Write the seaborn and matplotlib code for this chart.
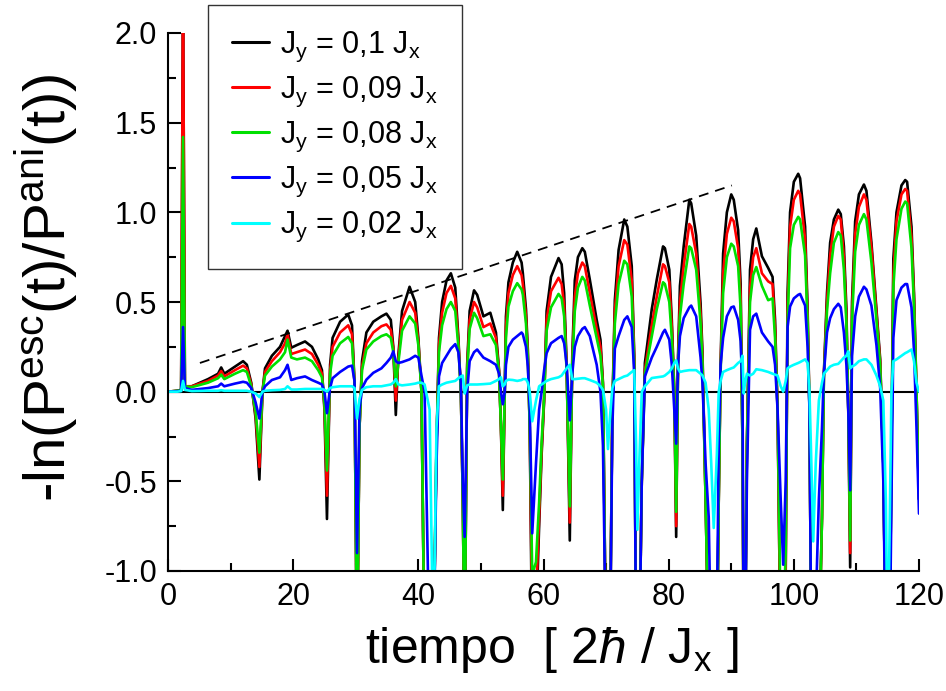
import matplotlib
matplotlib.use("Agg")
import matplotlib.pyplot as plt
from matplotlib.lines import Line2D
from matplotlib.ticker import MultipleLocator, FormatStrFormatter
import numpy as np
import pandas as pd
import seaborn as sns

# ---------------- data ----------------
tiempo = [
    0.0, 1.5, 2.1, 2.4, 2.7, 3.8, 6.4, 8.0, 8.5, 9.0, 10.7, 12.0, 12.6, 13.3, 14.0,
    14.6, 15.1, 15.5, 16.6, 17.9, 18.7, 19.1, 19.7, 20.6, 21.9, 23.0, 24.0, 24.6, 25.0,
    25.4, 25.9, 26.3, 27.5, 28.8, 29.4, 29.8,
    30.2, 30.6, 31.0, 31.7, 32.8, 34.1, 34.9, 35.6, 36.0,
    36.4, 36.8, 37.4, 38.6, 39.5, 40.0, 40.5,
    41.0, 41.8, 42.4, 42.9, 43.3, 43.8, 44.5, 45.2, 45.9, 46.4, 46.8, 47.1,
    47.4, 47.8, 48.2, 48.9, 49.4, 50.4, 51.5, 52.4, 52.9, 53.2,
    53.5, 53.8, 54.0, 54.4, 55.1, 55.8, 56.5, 56.7, 57.2, 57.5, 57.8,
    58.2, 58.8, 59.3, 59.7, 60.1, 60.5, 61.2, 62.4, 62.9, 63.3, 63.7,
    64.2, 64.6, 65.0, 65.5, 66.2, 66.6, 67.4, 68.5, 69.1, 69.5,
    70.0, 70.3, 70.6, 71.0, 71.4, 72.0, 72.9, 73.4, 74.1, 74.5,
    74.8, 75.0, 75.3, 75.7, 76.2, 77.3, 78.1, 79.1, 79.4, 80.1, 80.5, 80.9,
    81.2, 81.5, 81.8, 82.4, 83.3, 83.6, 84.4, 85.1, 85.4, 85.9,
    86.4, 86.8, 87.2, 87.7, 88.0, 88.3, 88.7, 89.3, 90.0, 90.4, 91.1, 91.5,
    91.8, 92.0, 92.2, 92.5, 93.0, 93.5, 94.0, 94.9, 95.9, 96.6, 97.0, 97.4,
    97.9, 98.3, 98.7, 99.0, 99.4, 100.0, 100.7, 101.0, 101.8, 102.2, 102.5,
    102.8, 103.1, 103.5, 104.0, 104.5, 104.8, 105.3, 105.8, 106.4, 107.1, 107.5, 108.0, 108.4, 108.7,
    109.0, 109.3, 109.8, 110.4, 111.2, 111.6, 112.4, 113.2, 113.8, 114.3,
    114.7, 115.0, 115.3, 115.6, 115.9, 116.4, 117.2, 117.8, 118.1, 118.8, 119.2, 119.6, 120.0,
]

jy_0_10 = [
    0.0, 0.005, 0.01, 2.3, 0.03, 0.03, 0.07, 0.10, 0.135, 0.10, 0.14, 0.17, 0.15, 0.05, -0.15,
    -0.49, 0.0, 0.13, 0.20, 0.25, 0.31, 0.34, 0.245, 0.26, 0.28, 0.25, 0.18, 0.12, -0.1,
    -0.71, 0.15, 0.30, 0.39, 0.43, 0.37, 0.05,
    -1.5, -0.2, 0.17, 0.33, 0.39, 0.42, 0.435, 0.40, 0.25,
    -0.13, 0.20, 0.45, 0.585, 0.50, 0.30, 0.0,
    -1.5, -1.5, -1.5, -0.3, 0.30, 0.50, 0.62, 0.66, 0.58, 0.30, 0.0, -0.6,
    -1.5, 0.15, 0.45, 0.565, 0.54, 0.42, 0.44, 0.33, 0.12, -0.2,
    -0.66, 0.0, 0.42, 0.61, 0.72, 0.78, 0.72, 0.66, 0.46, 0.23, -0.2,
    -1.5, -1.3, -0.75, -0.35, -0.05, 0.45, 0.64, 0.745, 0.71, 0.55, 0.15,
    -0.83, 0.2, 0.62, 0.75, 0.80, 0.78, 0.625, 0.40, 0.29, 0.05,
    -1.5, -1.5, -1.5, -0.1, 0.51, 0.79, 0.96, 0.92, 0.70, 0.2,
    -1.5, -1.5, -1.5, -0.5, 0.16, 0.46, 0.625, 0.81, 0.80, 0.68, 0.40, 0.0,
    -0.81, 0.2, 0.59, 0.81, 1.07, 1.05, 0.87, 0.49, 0.22, -0.6,
    -1.5, -1.5, -1.5, -1.5, -0.6, 0.15, 0.77, 1.0, 1.10, 1.07, 0.90, 0.6,
    -0.3, -1.5, -1.5, -0.3, 0.68, 0.85, 0.91, 0.755, 0.69, 0.64, 0.40, -0.1,
    -1.5, -1.5, -1.0, 0.55, 1.0, 1.17, 1.215, 1.19, 0.92, 0.46, -0.1,
    -1.5, -1.5, -1.5, -1.5, -0.7, 0.1, 0.55, 0.83, 0.96, 1.015, 0.99, 0.81, 0.46, -0.1,
    -0.98, 0.5, 0.95, 1.1, 1.155, 1.12, 0.83, 0.46, 0.18, -0.4,
    -1.5, -1.5, -1.5, -0.3, 0.74, 1.0, 1.15, 1.18, 1.17, 0.92, 0.55, 0.0, -0.6,
]

jy_0_09 = [
    0.0, 0.005, 0.01, 2.3, 0.03, 0.03, 0.06, 0.09, 0.115, 0.085, 0.12, 0.145, 0.13, 0.04, -0.13,
    -0.42, 0.0, 0.11, 0.17, 0.22, 0.27, 0.32, 0.21, 0.22, 0.235, 0.21, 0.15, 0.10, -0.08,
    -0.58, 0.12, 0.25, 0.33, 0.37, 0.32, 0.05,
    -1.5, -0.2, 0.14, 0.27, 0.33, 0.365, 0.375, 0.345, 0.24,
    -0.05, 0.18, 0.40, 0.50, 0.44, 0.28, 0.0,
    -1.5, -1.5, -1.5, -0.3, 0.26, 0.44, 0.55, 0.59, 0.52, 0.28, 0.0, -0.6,
    -1.5, 0.13, 0.40, 0.50, 0.47, 0.36, 0.38, 0.30, 0.11, -0.2,
    -0.58, 0.0, 0.36, 0.55, 0.65, 0.70, 0.65, 0.60, 0.42, 0.20, -0.2,
    -1.3, -1.15, -0.7, -0.32, -0.04, 0.40, 0.56, 0.635, 0.60, 0.48, 0.13,
    -0.73, 0.17, 0.53, 0.66, 0.72, 0.70, 0.55, 0.35, 0.25, 0.04,
    -1.5, -1.5, -1.5, -0.1, 0.45, 0.70, 0.845, 0.82, 0.62, 0.18,
    -1.5, -1.5, -1.5, -0.5, 0.12, 0.37, 0.53, 0.71, 0.70, 0.61, 0.36, 0.0,
    -0.75, 0.17, 0.50, 0.70, 0.935, 0.92, 0.77, 0.43, 0.19, -0.6,
    -1.5, -1.5, -1.5, -1.5, -0.6, 0.13, 0.66, 0.88, 0.97, 0.95, 0.80, 0.53,
    -0.3, -1.5, -1.5, -0.3, 0.58, 0.75, 0.80, 0.66, 0.615, 0.60, 0.35, -0.1,
    -1.5, -1.5, -1.0, 0.45, 0.92, 1.07, 1.12, 1.10, 0.85, 0.42, -0.1,
    -1.5, -1.5, -1.5, -1.5, -0.7, 0.09, 0.50, 0.76, 0.92, 0.98, 0.96, 0.75, 0.42, -0.1,
    -0.90, 0.45, 0.88, 1.03, 1.10, 1.07, 0.80, 0.44, 0.16, -0.4,
    -1.5, -1.5, -1.5, -0.3, 0.65, 0.95, 1.10, 1.13, 1.12, 0.86, 0.52, 0.0, -0.6,
]

jy_0_08 = [
    0.0, 0.005, 0.01, 1.42, 0.03, 0.025, 0.05, 0.075, 0.095, 0.07, 0.10, 0.12, 0.11, 0.03, -0.11,
    -0.34, 0.0, 0.09, 0.14, 0.18, 0.22, 0.29, 0.19, 0.18, 0.19, 0.17, 0.12, 0.08, -0.06,
    -0.44, 0.10, 0.20, 0.27, 0.305, 0.27, 0.05,
    -1.5, -0.2, 0.12, 0.235, 0.28, 0.31, 0.32, 0.30, 0.22,
    0.03, 0.16, 0.34, 0.42, 0.38, 0.26, 0.0,
    -1.5, -1.5, -1.5, -0.3, 0.22, 0.37, 0.46, 0.50, 0.45, 0.25, 0.0, -0.6,
    -1.5, 0.11, 0.35, 0.44, 0.41, 0.31, 0.32, 0.26, 0.10, -0.2,
    -0.49, 0.0, 0.30, 0.475, 0.56, 0.605, 0.57, 0.54, 0.38, 0.18, -0.2,
    -1.02, -0.95, -0.62, -0.28, -0.03, 0.34, 0.47, 0.545, 0.52, 0.42, 0.11,
    -0.64, 0.15, 0.45, 0.58, 0.64, 0.62, 0.48, 0.30, 0.20, 0.03,
    -1.5, -1.5, -1.5, -0.1, 0.38, 0.60, 0.73, 0.71, 0.53, 0.15,
    -1.5, -1.5, -1.5, -0.5, 0.10, 0.31, 0.46, 0.61, 0.60, 0.50, 0.30, 0.0,
    -0.67, 0.14, 0.42, 0.60, 0.81, 0.80, 0.68, 0.38, 0.16, -0.6,
    -1.5, -1.5, -1.5, -1.5, -0.6, 0.11, 0.55, 0.75, 0.825, 0.81, 0.70, 0.46,
    -0.3, -1.5, -1.5, -0.3, 0.50, 0.65, 0.695, 0.59, 0.51, 0.52, 0.30, -0.1,
    -1.3, -1.3, -0.9, 0.38, 0.80, 0.93, 0.975, 0.96, 0.76, 0.38, -0.1,
    -1.5, -1.5, -1.5, -1.5, -0.7, 0.08, 0.45, 0.66, 0.83, 0.89, 0.87, 0.68, 0.38, -0.1,
    -0.83, 0.40, 0.78, 0.93, 0.99, 0.96, 0.72, 0.40, 0.14, -0.4,
    -1.5, -1.5, -1.5, -0.3, 0.58, 0.85, 1.02, 1.06, 1.05, 0.80, 0.48, 0.0, -0.6,
]

jy_0_05 = [
    0.0, 0.003, 0.005, 0.36, 0.02, 0.01, 0.02, 0.03, 0.045, 0.03, 0.045, 0.055, 0.05, 0.02, -0.06,
    -0.15, 0.0, 0.03, 0.065, 0.08, 0.12, 0.15, 0.065, 0.075, 0.085, 0.065, 0.05, 0.04, 0.0,
    -0.12, 0.02, 0.075, 0.11, 0.14, 0.145, 0.06,
    -0.9, -0.1, 0.02, 0.067, 0.105, 0.13, 0.16, 0.19, 0.225,
    0.17, 0.16, 0.165, 0.18, 0.20, 0.19, 0.09,
    0.0, -1.5, -1.5, -0.4, 0.085, 0.16, 0.20, 0.24, 0.265, 0.22, 0.05, -0.5,
    -0.81, 0.0, 0.17, 0.22, 0.235, 0.19, 0.17, 0.15, 0.10, 0.0,
    -0.07, 0.0, 0.15, 0.25, 0.29, 0.31, 0.33, 0.32, 0.25, 0.14, -0.1,
    -0.79, -0.4, -0.1, 0.0, 0.12, 0.215, 0.27, 0.30, 0.31, 0.27, 0.15,
    -0.16, 0.1, 0.25, 0.31, 0.35, 0.36, 0.31, 0.15, 0.0, -0.3,
    -1.5, -1.5, -1.5, -0.2, 0.24, 0.31, 0.40, 0.42, 0.36, 0.1,
    -1.5, -1.5, -1.5, -0.5, 0.085, 0.19, 0.25, 0.33, 0.345, 0.29, 0.15, -0.1,
    -0.29, 0.15, 0.31, 0.41, 0.47, 0.48, 0.42, 0.19, 0.05, -0.4,
    -0.7, -1.5, -1.5, -1.3, -0.3, 0.15, 0.30, 0.42, 0.47, 0.475, 0.40, 0.28,
    0.0, -1.5, -1.5, -0.5, 0.345, 0.42, 0.435, 0.33, 0.28, 0.25, 0.15, -0.1,
    -0.6, -0.965, -0.5, 0.36, 0.475, 0.52, 0.54, 0.545, 0.48, 0.25, -0.1,
    -1.5, -1.5, -1.2, -0.6, -0.2, 0.1, 0.33, 0.41, 0.46, 0.49, 0.47, 0.33, 0.15, -0.1,
    -0.55, 0.2, 0.42, 0.53, 0.585, 0.57, 0.48, 0.26, 0.02, -0.5,
    -1.5, -1.5, -1.5, -0.6, 0.30, 0.51, 0.58, 0.60, 0.60, 0.47, 0.23, -0.2, -0.68,
]

jy_0_02 = [
    0.0, 0.0, 0.003, 0.06, 0.01, 0.003, 0.005, 0.005, 0.008, 0.005, 0.005, 0.005, 0.005, 0.0, -0.01,
    -0.03, 0.0, 0.005, 0.008, 0.01, 0.015, 0.03, 0.012, 0.012, 0.015, 0.015, 0.015, 0.015, 0.01,
    0.0, 0.02, 0.025, 0.03, 0.03, 0.03, 0.02,
    -0.15, -0.04, 0.01, 0.025, 0.03, 0.03, 0.035, 0.04, 0.05,
    0.07, 0.04, 0.035, 0.04, 0.045, 0.05, 0.05,
    0.04, -0.1, -1.5, -0.2, 0.03, 0.04, 0.05, 0.055, 0.06, 0.075, 0.085, 0.09,
    -0.01, 0.035, 0.04, 0.04, 0.04, 0.042, 0.045, 0.06, 0.07, 0.08,
    0.03, 0.04, 0.06, 0.067, 0.065, 0.06, 0.065, 0.07, 0.07, 0.05, 0.0,
    -0.165, -0.05, 0.03, 0.04, 0.05, 0.06, 0.07, 0.08, 0.09, 0.11, 0.13,
    0.15, 0.07, 0.07, 0.072, 0.075, 0.075, 0.065, 0.05, 0.03, 0.01,
    -0.1, -0.32, -0.15, 0.02, 0.06, 0.07, 0.085, 0.09, 0.11, 0.12,
    -0.3, -0.77, -0.4, 0.0, 0.03, 0.076, 0.08, 0.085, 0.09, 0.11, 0.13, 0.16,
    0.175, 0.13, 0.11, 0.115, 0.12, 0.12, 0.12, 0.10, 0.09, 0.05,
    -0.1, -0.4, -0.76, -0.35, 0.0, 0.06, 0.11, 0.12, 0.13, 0.135, 0.16, 0.17,
    0.20, -0.01, 0.05, 0.10, 0.09, 0.10, 0.125, 0.12, 0.11, 0.10, 0.095, 0.09,
    0.03, 0.0, 0.06, 0.13, 0.14, 0.15, 0.16, 0.165, 0.18, 0.16, 0.0,
    -0.4, -0.835, -0.4, -0.05, 0.05, 0.10, 0.12, 0.14, 0.15, 0.155, 0.17, 0.19, 0.20, 0.225,
    0.13, 0.14, 0.15, 0.17, 0.18, 0.18, 0.15, 0.09, 0.03, -0.05,
    -0.6, -1.5, -0.8, 0.0, 0.17, 0.18, 0.20, 0.215, 0.22, 0.235, 0.17, 0.05, 0.0,
]

series_labels = [r"J$_y$ = 0,1 J$_x$", r"J$_y$ = 0,09 J$_x$", r"J$_y$ = 0,08 J$_x$",
                 r"J$_y$ = 0,05 J$_x$", r"J$_y$ = 0,02 J$_x$"]
series_colors = ["#000000", "#ff0000", "#00e000", "#0000ff", "#00ffff"]

envelope_t = [5.1, 90.1]
envelope_y = [0.16, 1.15]

# ---------------- build long table ----------------
frames = []
for lab, vals in zip(series_labels, [jy_0_10, jy_0_09, jy_0_08, jy_0_05, jy_0_02]):
    frames.append(pd.DataFrame({"tiempo": tiempo, "valor": vals, "serie": lab}))
df = pd.concat(frames, ignore_index=True)

sns.set_theme(style="white")
plt.rcParams["font.family"] = ["Liberation Sans", "DejaVu Sans"]
plt.rcParams["mathtext.fontset"] = "custom"
plt.rcParams["mathtext.rm"] = "Liberation Sans"
plt.rcParams["mathtext.it"] = "Liberation Sans:italic"
plt.rcParams["mathtext.default"] = "regular"
plt.rcParams["axes.unicode_minus"] = False
for k in ["text.color", "axes.labelcolor", "xtick.color", "ytick.color", "axes.edgecolor"]:
    plt.rcParams[k] = "black"

fig = plt.figure(figsize=(9.46, 6.91), dpi=100)
ax = fig.add_axes([168 / 946, 1 - 571 / 691, (919 - 168) / 946, (571 - 33) / 691])

ax.axhline(0, color="black", lw=1.5, zorder=1)

sns.lineplot(data=df, x="tiempo", y="valor", hue="serie", hue_order=series_labels,
             palette=dict(zip(series_labels, series_colors)), sort=False,
             estimator=None, units="serie", linewidth=1.9, legend=False, ax=ax, zorder=2)

ax.plot(envelope_t, envelope_y, color="black", lw=1.3, ls=(0, (5.5, 3.9)), zorder=3)

ax.set_xlim(0, 120)
ax.set_ylim(-1, 2)
ax.set_xlabel("")
ax.set_ylabel("")

for s in ["top", "right"]:
    ax.spines[s].set_visible(False)
for s in ["left", "bottom"]:
    ax.spines[s].set_color("black")
    ax.spines[s].set_linewidth(1.5)

ax.xaxis.set_major_locator(MultipleLocator(20))
ax.xaxis.set_minor_locator(MultipleLocator(10))
ax.yaxis.set_major_locator(MultipleLocator(0.5))
ax.yaxis.set_minor_locator(MultipleLocator(0.25))
ax.yaxis.set_major_formatter(FormatStrFormatter("%.1f"))
ax.tick_params(which="major", direction="in", length=9, width=1.5, color="black",
               labelcolor="black", labelsize=22, pad=8, left=True, bottom=True)
ax.tick_params(which="minor", direction="in", length=6, width=1.5, color="black",
               left=True, bottom=True)

fig.text(552 / 946, 1 - 650 / 691, r"tiempo  [ 2$\mathit{ħ}$ / J$_x$ ]", ha="center", va="center",
         fontsize=36, color="black")
fig.text(46 / 946, 1 - 288 / 691, r"-ln(P$^{esc}$(t)/P$^{ani}$(t))", ha="center", va="center",
         rotation=90, fontsize=42, color="black")

handles = [Line2D([], [], color=c, lw=2.2) for c in series_colors]
leg = fig.legend(handles, series_labels, loc="upper left",
                 bbox_to_anchor=(208 / 946, 1 - 5 / 691), frameon=True, fancybox=False,
                 edgecolor="black", fontsize=22, handlelength=1.2, handletextpad=0.35,
                 labelspacing=0.36, borderpad=0.8, borderaxespad=0)
leg.get_frame().set_linewidth(1.0)

fig.savefig("out.png", dpi=100)
